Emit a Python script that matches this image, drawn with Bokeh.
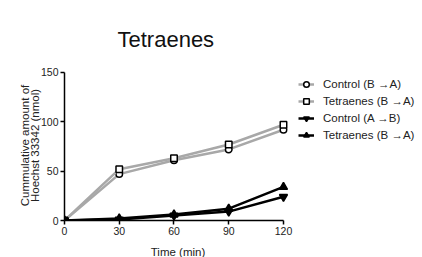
from bokeh.plotting import figure
from bokeh.models import Range1d, Legend, LegendItem, FixedTicker
from bokeh.embed import file_html
from bokeh.resources import INLINE

# Data
time_min = [0, 30, 60, 90, 120]
control_ba = [0, 47, 61, 72, 92]
tetraenes_ba = [0, 52, 63, 77, 97]
control_ab = [0, 1, 5, 9, 24]
tetraenes_ab = [0, 2, 6, 12, 34]

series_labels = ["Control (B \u2192A)", "Tetraenes (B \u2192A)",
                 "Control (A \u2192B)", "Tetraenes (B \u2192A)"]
x_ticks = [0, 30, 60, 90, 120]
y_ticks = [0, 50, 100, 150]

FONT = "Liberation Sans"
GRAY = "#a8a8a8"

p = figure(frame_width=227, frame_height=150,
           x_range=Range1d(0, 124.4), y_range=Range1d(0, 152),
           output_backend="svg", toolbar_location=None,
           min_border_left=64, min_border_right=0,
           min_border_top=70, min_border_bottom=37)

p.title.text = "Tetraenes"
p.title.text_font = FONT
p.title.text_font_size = "22px"
p.title.text_font_style = "normal"
p.title.text_color = "#111111"
p.title.align = "left"
p.title.offset = 53
p.title.standoff = 38

p.outline_line_color = None
p.xgrid.grid_line_color = None
p.ygrid.grid_line_color = None

for ax in (p.xaxis[0], p.yaxis[0]):
    ax.axis_line_width = 1.5
    ax.axis_line_color = "black"
    ax.major_tick_line_width = 1.5
    ax.major_tick_line_color = "black"
    ax.major_tick_in = 0
    ax.major_tick_out = 4
    ax.minor_tick_line_color = None
    ax.major_label_text_font = FONT
    ax.major_label_text_font_size = "10.5px"
    ax.major_label_text_color = "#222222"
    ax.major_label_standoff = 2
    ax.axis_label_text_font = FONT
    ax.axis_label_text_font_style = "normal"
    ax.axis_label_text_color = "#222222"

p.xaxis.bounds = (0, 120)
p.yaxis.bounds = (0, 150)
p.xaxis.ticker = FixedTicker(ticks=x_ticks)
p.yaxis.ticker = FixedTicker(ticks=y_ticks)
p.xaxis.axis_label = "Time (min)"
p.xaxis.axis_label_text_font_size = "11.5px"
p.xaxis.axis_label_standoff = 8
p.yaxis.axis_label = "Cummulative amount of\nHoechst 33342 (nmol)"
p.yaxis.axis_label_text_font_size = "11.5px"
p.yaxis.axis_label_text_line_height = 0.8
p.yaxis.axis_label_standoff = -3

items = []
specs = [
    (control_ba, GRAY, "circle", "white", 6.5),
    (tetraenes_ba, GRAY, "square", "white", 6.5),
    (control_ab, "black", "inverted_triangle", "black", 8),
    (tetraenes_ab, "black", "triangle", "black", 8),
]
for (vals, col, marker, fill, size), lab in zip(specs, series_labels):
    ln = p.line(time_min, vals, line_color=col, line_width=2.5)
    sc = p.scatter(time_min, vals, marker=marker, size=size,
                   fill_color=fill, line_color="black", line_width=1.5)
    items.append(LegendItem(label=lab, renderers=[ln, sc]))

legend = Legend(items=items, location="top_left")
legend.label_text_font = FONT
legend.label_text_font_size = "11.5px"
legend.label_text_color = "#222222"
legend.glyph_width = 16
legend.glyph_height = 14
legend.label_height = 14
legend.label_standoff = 9
legend.spacing = 3
legend.padding = 0
legend.margin = 7
legend.border_line_color = None
legend.background_fill_alpha = 0
p.add_layout(legend, "right")

open("out.html", "w").write(file_html(p, INLINE))
